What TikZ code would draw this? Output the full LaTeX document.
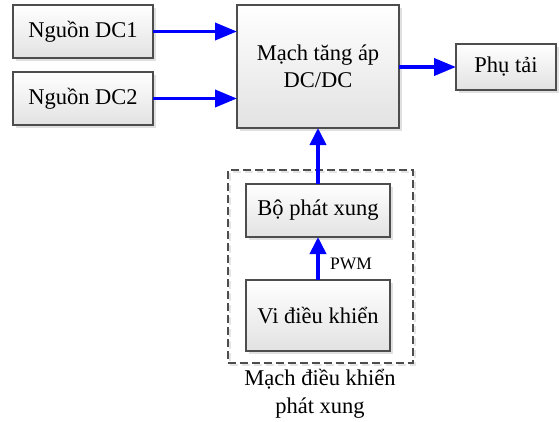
\documentclass[tikz,border=0pt]{standalone}
\usepackage{fontspec}
\setmainfont{Liberation Serif}
\usetikzlibrary{arrows.meta,shadows}
\definecolor{bordergray}{HTML}{4D4D4D}
\definecolor{fillbottom}{HTML}{E2E2E2}
\definecolor{arrowblue}{HTML}{0000FF}
\tikzset{
  blockbox/.style={draw=bordergray, line width=1.3pt, rectangle, inner sep=0pt, outer sep=0pt,
    top color=white, bottom color=fillbottom, align=center,
    font=\fontsize{22.5}{27}\selectfont,
    drop shadow={shadow xshift=2.5pt, shadow yshift=-2.5pt, fill=black, opacity=0.12}},
  dashbox/.style={draw=bordergray, line width=1.2pt, dash pattern=on 8pt off 4pt, rectangle, inner sep=0pt, outer sep=0pt,
    drop shadow={shadow xshift=2pt, shadow yshift=-2pt, fill=none, draw=black, opacity=0.1}},
  harr/.style={draw=arrowblue, line width=3.8pt, -{Triangle[length=22pt,width=17pt]}},
  varr/.style={draw=arrowblue, line width=3.8pt, -{Triangle[length=17pt,width=16pt]}},
  labeltext/.style={font=\fontsize{22.5}{28}\selectfont, align=center, inner sep=0pt},
  smalltext/.style={font=\fontsize{17.5}{20}\selectfont, inner sep=0pt}
}
\begin{document}
\begin{tikzpicture}[x=1pt,y=-1pt]
\useasboundingbox (0,0) rectangle (560,421);
\node[dashbox, minimum width=185pt, minimum height=193pt] (ctrl) at (320.5,266.5) {};
\node[blockbox, minimum width=140pt, minimum height=53pt] (dc1) at (83,31.5) {Nguồn DC1};
\node[blockbox, minimum width=140pt, minimum height=53pt] (dc2) at (83,98.5) {Nguồn DC2};
\node[blockbox, minimum width=162pt, minimum height=123pt] (main) at (318,66.5) {Mạch tăng áp\\DC/DC};
\node[blockbox, minimum width=100pt, minimum height=46pt] (load) at (506,67) {Phụ tải};
\node[blockbox, minimum width=144pt, minimum height=53pt] (pulse) at (318,210.5) {Bộ phát xung};
\node[blockbox, minimum width=144pt, minimum height=71pt] (mcu) at (318,315.5) {Vi điều khiển};
\node[labeltext] (cap) at (320,394) {Mạch điều khiển\\phát xung};
\node[smalltext] (pwm) at (351,264) {PWM};
\draw[harr] (dc1.east) -- (dc1.east -| main.west);
\draw[harr] (dc2.east) -- (dc2.east -| main.west);
\draw[harr] (main.east |- load.west) -- (load.west);
\draw[varr] (pulse.north) -- (main.south);
\draw[varr] (mcu.north) -- (pulse.south);
\end{tikzpicture}
\end{document}
